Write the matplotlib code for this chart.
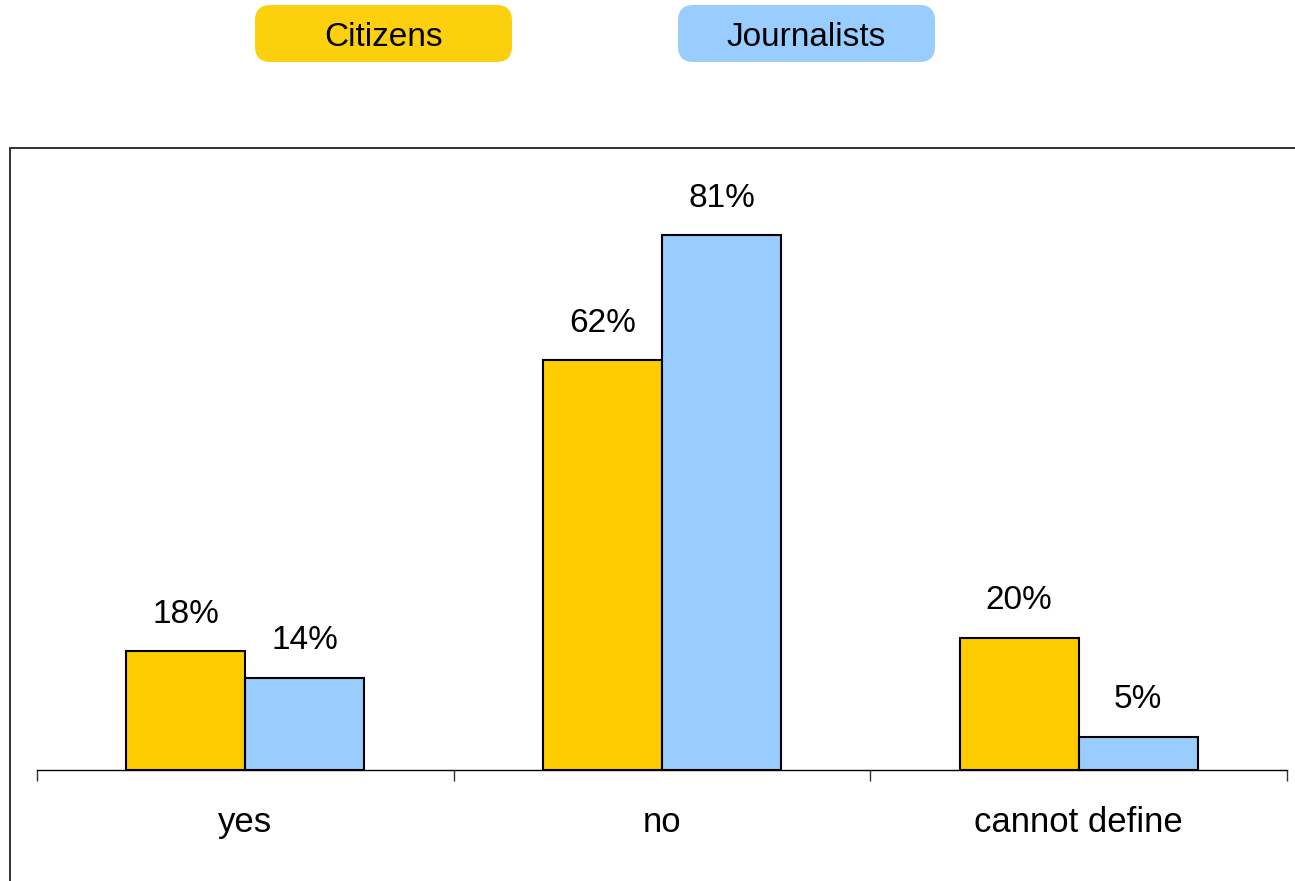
import matplotlib
matplotlib.use('Agg')
import matplotlib.pyplot as plt
import matplotlib.patches as patches
import numpy as np

plt.rcParams['font.family'] = ['Liberation Sans', 'DejaVu Sans']

categories = ['yes', 'no', 'cannot define']
series_names = ['Citizens', 'Journalists']
citizens = [18, 62, 20]
journalists = [14, 81, 5]
colors = ['#FFCC00', '#99CCFF']
legend_colors = ['#FDD00E', '#99CCFF']

W, H = 1295, 881
fig = plt.figure(figsize=(W / 100, H / 100), dpi=100)

# outer frame (right and bottom run off the picture)
frame = patches.Rectangle((10 / W, -0.05), 1.1, (H - 148) / H + 0.05,
                          transform=fig.transFigure, fill=False,
                          edgecolor='#222222', linewidth=1.3, clip_on=False)
fig.patches.append(frame)

ax = fig.add_axes([37 / W, (H - 770) / H, 1250 / W, (770 - 148) / H])
x = np.arange(len(categories))
bw = 0.286
b1 = ax.bar(x - bw / 2, citizens, bw, color=colors[0], edgecolor='black', linewidth=1.5)
b2 = ax.bar(x + bw / 2, journalists, bw, color=colors[1], edgecolor='black', linewidth=1.5)

for bars, vals in [(b1, citizens), (b2, journalists)]:
    for b, v in zip(bars, vals):
        ax.text(b.get_x() + b.get_width() / 2, v + 5.6, f'{v}%',
                ha='center', va='center', fontsize=24)

ax.set_xlim(-0.5, len(categories) - 0.5)
ax.set_ylim(0, 622 / 6.605)
for s in ['top', 'right', 'left']:
    ax.spines[s].set_visible(False)
ax.spines['bottom'].set_linewidth(1)
ax.set_yticks([])
ax.set_xticks(x)
ax.set_xticklabels(categories, fontsize=25)
ax.tick_params(axis='x', which='major', length=0, pad=26)
ax.set_xticks(np.arange(len(categories) + 1) - 0.5, minor=True)
ax.tick_params(axis='x', which='minor', length=8, width=1, color='#333333')
ax.patch.set_alpha(0)

# legend boxes at the top
boxes = [(255, 512), (678, 935)]
for (x0, x1), name, c in zip(boxes, series_names, legend_colors):
    p = patches.FancyBboxPatch((x0 / W, (H - 62) / H), (x1 - x0) / W, 57 / H,
                               boxstyle='round,pad=0,rounding_size=0.012',
                               transform=fig.transFigure, facecolor=c,
                               edgecolor='none', mutation_aspect=W / H)
    fig.patches.append(p)
    fig.text((x0 + x1) / 2 / W, (H - 38) / H, name, ha='center', va='center',
             fontsize=24)

fig.savefig('out.png', dpi=100, facecolor='white')
